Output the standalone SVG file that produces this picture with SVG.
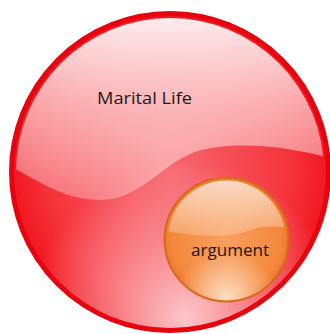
<svg xmlns="http://www.w3.org/2000/svg" width="330" height="334" viewBox="0 0 330 334">
<style>
.lbl{font-family:"Open Sans","Liberation Sans",sans-serif;fill:#201818}
</style>
<defs>
<radialGradient id="bigFill" cx="0.5" cy="0.5" r="0.55">
<stop offset="0" stop-color="#f76a72"/>
<stop offset="0.7" stop-color="#f5323a"/>
<stop offset="1" stop-color="#ee0c16"/>
</radialGradient>
<radialGradient id="bigGlow" cx="0.55" cy="0.97" r="0.5">
<stop offset="0" stop-color="#fcd0d3" stop-opacity="0.95"/>
<stop offset="1" stop-color="#fcd0d3" stop-opacity="0"/>
</radialGradient>
<linearGradient id="bigHi" x1="0" y1="0" x2="0" y2="1">
<stop offset="0" stop-color="#ffffff" stop-opacity="0.95"/>
<stop offset="0.5" stop-color="#ffffff" stop-opacity="0.6"/>
<stop offset="1" stop-color="#ffffff" stop-opacity="0.3"/>
</linearGradient>
<radialGradient id="smFill" cx="0.5" cy="0.5" r="0.55">
<stop offset="0" stop-color="#f8a060"/>
<stop offset="0.8" stop-color="#f4883c"/>
<stop offset="1" stop-color="#e36e22"/>
</radialGradient>
<radialGradient id="smGlow" cx="0.5" cy="0.97" r="0.4">
<stop offset="0" stop-color="#fde4cc" stop-opacity="0.95"/>
<stop offset="1" stop-color="#fde4cc" stop-opacity="0"/>
</radialGradient>
<linearGradient id="smHi" x1="0" y1="0" x2="0" y2="1">
<stop offset="0" stop-color="#ffffff" stop-opacity="0.8"/>
<stop offset="1" stop-color="#ffffff" stop-opacity="0.2"/>
</linearGradient>
<clipPath id="bigClip"><circle cx="170" cy="172" r="154"/></clipPath>
<clipPath id="smClip"><circle cx="226.5" cy="239.5" r="59"/></clipPath>
</defs>
<g id="marital-life">
<circle cx="170" cy="172" r="158.5" fill="url(#bigFill)" stroke="#e6040e" stroke-width="5"/>
<circle cx="170" cy="172" r="156" fill="url(#bigGlow)"/>
<path clip-path="url(#bigClip)" d="M10,10 H330 V158 C300,150 240,138 195,152 C160,165 140,200 100,200 C65,200 40,182 10,166 Z" fill="url(#bigHi)"/>
<text class="lbl" x="144.5" y="104" font-size="16" text-anchor="middle" textLength="95" lengthAdjust="spacingAndGlyphs">Marital Life</text>
</g>
<g id="argument">
<circle cx="226.5" cy="239.5" r="62" fill="url(#smFill)" stroke="#d8671c" stroke-width="2"/>
<circle cx="226.5" cy="239.5" r="61" fill="url(#smGlow)"/>
<path clip-path="url(#smClip)" d="M160,170 H300 V232 C285,226 268,224 250,230 C230,238 200,238 160,230 Z" fill="url(#smHi)"/>
<text class="lbl" x="230" y="256" font-size="16" text-anchor="middle" textLength="78" lengthAdjust="spacingAndGlyphs">argument</text>
</g>
</svg>
